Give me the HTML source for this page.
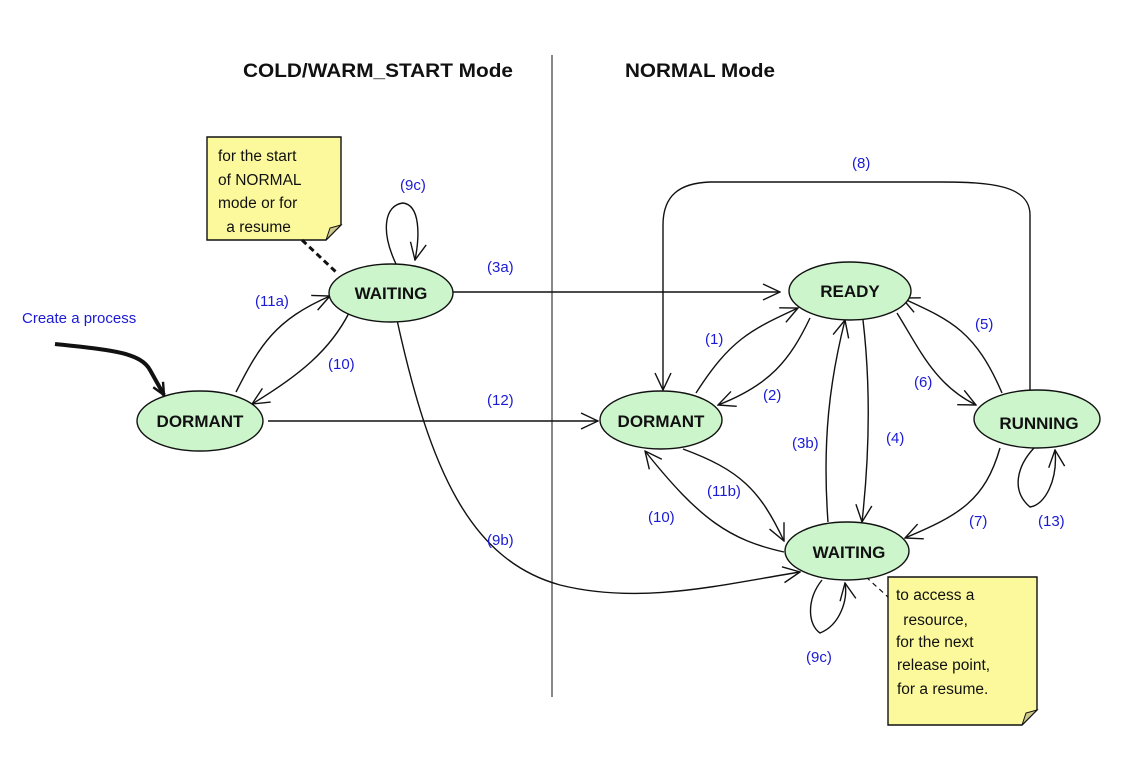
<!DOCTYPE html>
<html><head><meta charset="utf-8"><style>
html,body{margin:0;padding:0;background:#fff;}
svg{display:block;}
.st{font-family:"Liberation Sans",sans-serif;font-weight:bold;font-size:17px;fill:#111;}
.hd{font-family:"Liberation Sans",sans-serif;font-weight:bold;font-size:19px;fill:#111;}
.lb{font-family:"Liberation Sans",sans-serif;font-size:15px;fill:#1a1ad6;}
.nt{font-family:"Liberation Sans",sans-serif;font-size:15.5px;fill:#111;}
.e{fill:none;stroke:#111;stroke-width:1.4;}
.ell{fill:#ccf5cc;stroke:#111;stroke-width:1.4;}
</style></head><body>
<svg width="1148" height="759" viewBox="0 0 1148 759" xmlns="http://www.w3.org/2000/svg">
<defs>
<marker id="a" viewBox="0 0 20 20" refX="19" refY="10" markerWidth="20" markerHeight="20" markerUnits="userSpaceOnUse" orient="auto">
<path d="M2,2 L19,10 L2,18" fill="none" stroke="#111" stroke-width="1.4"/>
</marker>
<marker id="b" viewBox="0 0 20 20" refX="18" refY="10" markerWidth="16" markerHeight="16" markerUnits="userSpaceOnUse" orient="auto">
<path d="M3,3 L18,10 L3,17" fill="none" stroke="#111" stroke-width="3"/>
</marker>
</defs>
<rect width="1148" height="759" fill="#fff"/>
<line x1="552" y1="55" x2="552" y2="697" stroke="#888" stroke-width="2"/>
<text x="243" y="77" class="hd" textLength="270" lengthAdjust="spacingAndGlyphs">COLD/WARM_START Mode</text>
<text x="625" y="77" class="hd" textLength="150" lengthAdjust="spacingAndGlyphs">NORMAL Mode</text>

<!-- notes -->
<path d="M207,137 H341 V225 L326,240 H207 Z" fill="#fbf99c" stroke="#111" stroke-width="1.4"/>
<path d="M326,240 L330,228 L341,225 Z" fill="#cfc98a" stroke="#111" stroke-width="1"/>
<text class="nt"><tspan x="218" y="161">for the start</tspan><tspan x="218" y="185">of NORMAL</tspan><tspan x="218" y="208">mode or for</tspan><tspan x="222" y="232"> a resume</tspan></text>
<line x1="302" y1="240" x2="336" y2="272" stroke="#111" stroke-width="3" stroke-dasharray="6,4"/>

<path d="M888,577 H1037 V710 L1022,725 H888 Z" fill="#fbf99c" stroke="#111" stroke-width="1.4"/>
<path d="M1022,725 L1026,713 L1037,710 Z" fill="#cfc98a" stroke="#111" stroke-width="1"/>
<text class="nt"><tspan x="896" y="600">to access a</tspan><tspan x="899" y="625"> resource,</tspan><tspan x="896" y="647">for the next</tspan><tspan x="897" y="670">release point,</tspan><tspan x="897" y="694">for a resume.</tspan></text>
<line x1="866" y1="577" x2="888" y2="597" stroke="#111" stroke-width="1.2" stroke-dasharray="5,4"/>

<!-- edges left -->
<path d="M55,344 C110,350 140,352 150,370 L164,395" fill="none" stroke="#111" stroke-width="4" marker-end="url(#b)"/>
<path class="e" d="M236,392 C260,345 275,320 330,296" marker-end="url(#a)"/>
<path class="e" d="M349,313 C330,350 300,375 252,404" marker-end="url(#a)"/>
<path class="e" d="M396,264 C380,230 385,205 403,203 C420,205 420,235 415,260" marker-end="url(#a)"/>
<path class="e" d="M452,292 L780,292" marker-end="url(#a)"/>
<path class="e" d="M268,421 L598,421" marker-end="url(#a)"/>
<path class="e" d="M397,320 C430,470 470,560 560,585 C640,605 720,585 800,572" marker-end="url(#a)"/>

<!-- edges right -->
<path class="e" d="M1030,392 L1030,215 C1030,185 990,182 940,182 L710,182 C680,183 663,195 663,225 L663,390" marker-end="url(#a)"/>
<path class="e" d="M696,393 C730,340 750,330 798,308" marker-end="url(#a)"/>
<path class="e" d="M810,318 C790,360 770,385 718,405" marker-end="url(#a)"/>
<path class="e" d="M828,522 C822,440 830,380 845,320" marker-end="url(#a)"/>
<path class="e" d="M863,320 C870,380 870,450 862,522" marker-end="url(#a)"/>
<path class="e" d="M1002,393 C975,330 950,320 902,298" marker-end="url(#a)"/>
<path class="e" d="M897,313 C920,350 935,385 976,405" marker-end="url(#a)"/>
<path class="e" d="M1000,448 C985,500 960,515 905,538" marker-end="url(#a)"/>
<path class="e" d="M1034,448 C1018,465 1010,490 1030,507 C1045,505 1058,480 1055,450" marker-end="url(#a)"/>
<path class="e" d="M784,552 C730,540 700,520 645,451" marker-end="url(#a)"/>
<path class="e" d="M683,449 C740,470 760,490 784,541" marker-end="url(#a)"/>
<path class="e" d="M822,580 C806,600 808,625 820,633 C840,625 848,600 845,583" marker-end="url(#a)"/>

<!-- nodes -->
<ellipse class="ell" cx="391" cy="293" rx="62" ry="29"/>
<text x="391" y="299" class="st" text-anchor="middle">WAITING</text>
<ellipse class="ell" cx="200" cy="421" rx="63" ry="30"/>
<text x="200" y="427" class="st" text-anchor="middle">DORMANT</text>
<ellipse class="ell" cx="850" cy="291" rx="61" ry="29"/>
<text x="850" y="297" class="st" text-anchor="middle">READY</text>
<ellipse class="ell" cx="661" cy="420" rx="61" ry="29"/>
<text x="661" y="427" class="st" text-anchor="middle">DORMANT</text>
<ellipse class="ell" cx="1037" cy="419" rx="63" ry="29"/>
<text x="1039" y="429" class="st" text-anchor="middle">RUNNING</text>
<ellipse class="ell" cx="847" cy="551" rx="62" ry="29"/>
<text x="849" y="558" class="st" text-anchor="middle">WAITING</text>

<!-- labels -->
<text x="22" y="323" class="lb" font-size="16">Create a process</text>
<text x="255" y="306" class="lb">(11a)</text>
<text x="328" y="369" class="lb">(10)</text>
<text x="400" y="190" class="lb">(9c)</text>
<text x="487" y="272" class="lb">(3a)</text>
<text x="487" y="405" class="lb">(12)</text>
<text x="487" y="545" class="lb">(9b)</text>
<text x="852" y="168" class="lb">(8)</text>
<text x="705" y="344" class="lb">(1)</text>
<text x="763" y="400" class="lb">(2)</text>
<text x="792" y="448" class="lb">(3b)</text>
<text x="886" y="443" class="lb">(4)</text>
<text x="975" y="329" class="lb">(5)</text>
<text x="914" y="387" class="lb">(6)</text>
<text x="969" y="526" class="lb">(7)</text>
<text x="1038" y="526" class="lb">(13)</text>
<text x="648" y="522" class="lb">(10)</text>
<text x="707" y="496" class="lb">(11b)</text>
<text x="806" y="662" class="lb">(9c)</text>
</svg>
</body></html>
